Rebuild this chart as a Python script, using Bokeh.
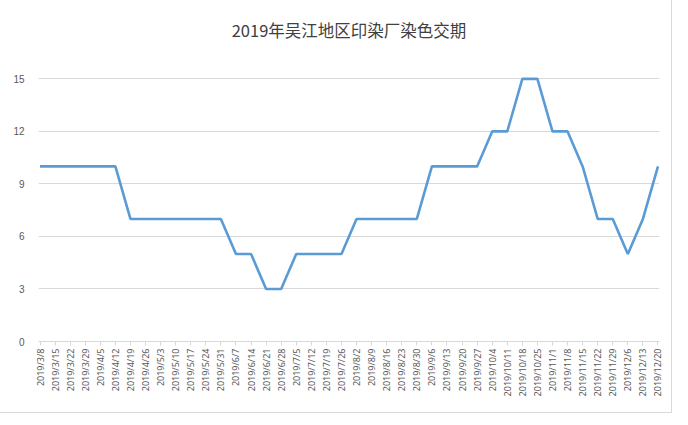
from bokeh.plotting import figure
from bokeh.models import Range1d, FixedTicker, Title
from bokeh.embed import file_html
from bokeh.resources import INLINE

title = "2019年吴江地区印染厂染色交期"
dates = ["2019/3/8", "2019/3/15", "2019/3/22", "2019/3/29", "2019/4/5", "2019/4/12",
         "2019/4/19", "2019/4/26", "2019/5/3", "2019/5/10", "2019/5/17", "2019/5/24",
         "2019/5/31", "2019/6/7", "2019/6/14", "2019/6/21", "2019/6/28", "2019/7/5",
         "2019/7/12", "2019/7/19", "2019/7/26", "2019/8/2", "2019/8/9", "2019/8/16",
         "2019/8/23", "2019/8/30", "2019/9/6", "2019/9/13", "2019/9/20", "2019/9/27",
         "2019/10/4", "2019/10/11", "2019/10/18", "2019/10/25", "2019/11/1", "2019/11/8",
         "2019/11/15", "2019/11/22", "2019/11/29", "2019/12/6", "2019/12/13", "2019/12/20"]
values = [10, 10, 10, 10, 10, 10,
          7, 7, 7, 7, 7, 7,
          7, 5, 5, 3, 3, 5,
          5, 5, 5, 7, 7, 7,
          7, 7, 10, 10, 10, 10,
          12, 12, 15, 15, 12, 12,
          10, 7, 7, 5, 7, 10]
y_ticks = [0, 3, 6, 9, 12, 15]

xs = list(range(len(dates)))

p = figure(width=671, height=412, output_backend="svg", toolbar_location=None,
           x_range=Range1d(-0.1, len(dates) - 1 + 0.1), y_range=Range1d(0, 15.25),
           min_border_left=38, min_border_right=12, min_border_top=74, min_border_bottom=71,
           title=title)
p.styles = {"outline": "1px solid #d9d9d9"}
p.outline_line_color = None
p.background_fill_color = "white"
p.border_fill_color = "white"

p.title.align = "center"
p.title.text_font = "Noto Sans CJK SC"
p.title.text_font_size = "16.5px"
p.title.text_font_style = "normal"
p.title.text_color = "#404040"

# empty spacer between the frame and the title
p.add_layout(Title(text=" ", text_font_size="14px"), "above")

p.line(xs, values, line_color="#5b9bd5", line_width=2.6)

# y axis
p.yaxis.ticker = FixedTicker(ticks=y_ticks)
p.yaxis.axis_line_color = None
p.yaxis.major_tick_line_color = None
p.yaxis.minor_tick_line_color = None
p.yaxis.major_label_text_font = "Liberation Sans"
p.yaxis.major_label_text_font_size = "10px"
p.yaxis.major_label_text_color = "#595959"
p.yaxis.major_label_standoff = 8
p.ygrid.grid_line_color = "#d9d9d9"
p.ygrid.ticker = FixedTicker(ticks=y_ticks)

# x axis
p.xaxis.ticker = FixedTicker(ticks=xs)
p.xaxis.major_label_overrides = {i: d for i, d in enumerate(dates)}
p.xaxis.major_label_orientation = 3.14159265 / 2
p.xaxis.axis_line_color = "#d9d9d9"
p.xaxis.major_tick_line_color = "#d9d9d9"
p.xaxis.major_tick_in = 0
p.xaxis.major_tick_out = 4
p.xaxis.minor_tick_line_color = None
p.xaxis.major_label_text_font = "Noto Sans"
p.xaxis.major_label_text_font_size = "9px"
p.xaxis.major_label_text_color = "#595959"
p.xaxis.major_label_standoff = 3
p.xgrid.grid_line_color = None

open("out.html", "w").write(file_html(p, INLINE))
